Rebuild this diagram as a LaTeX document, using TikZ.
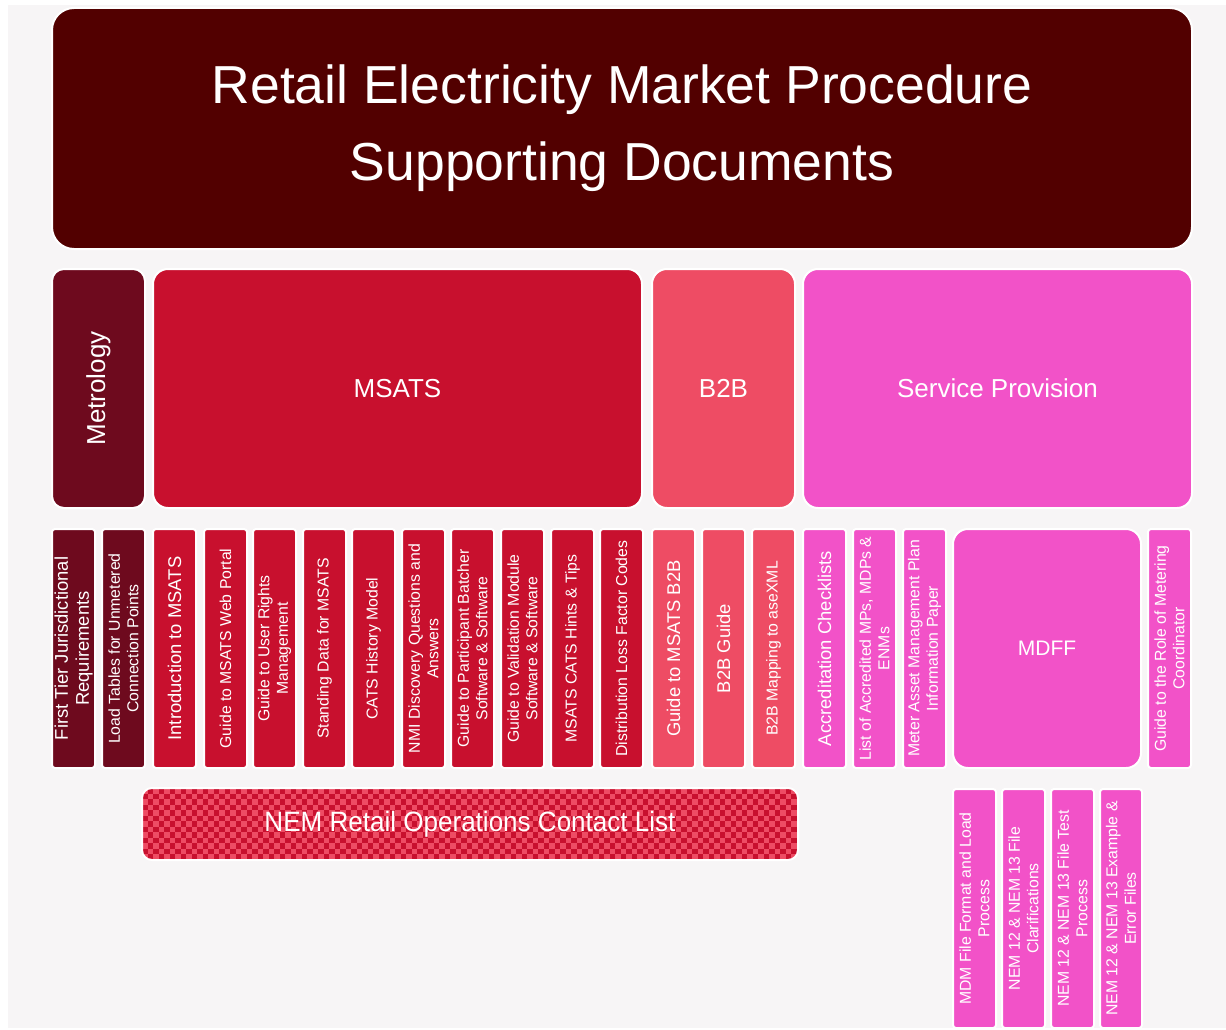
\documentclass[tikz,border=0pt]{standalone}
\usepackage{fontspec}
\setmainfont{Liberation Sans}
\definecolor{bgc}{HTML}{F7F5F6}
\definecolor{titlec}{HTML}{520000}
\definecolor{metc}{HTML}{6E0A1E}
\definecolor{msc}{HTML}{C8102E}
\definecolor{b2bc}{HTML}{EE4C64}
\definecolor{spc}{HTML}{F252C8}
\begin{document}
\begin{tikzpicture}[x=1pt,y=-1pt,
  bigbox/.style={draw=white, line width=2pt, rounded corners=15pt, inner sep=0pt, text=white, align=center, font=\fontsize{26}{30}\selectfont},
  docnode/.style={draw=white, line width=2pt, rounded corners=3pt, rotate=90, minimum width=239pt, minimum height=43pt, inner sep=0pt, align=center, text=white},
  fs/.style={font=\fontsize{15.8}{18.5}\selectfont},
  fl/.style={font=\fontsize{18.4}{21}\selectfont},
  met/.style={docnode, fill=metc},
  ms/.style={docnode, fill=msc},
  bb/.style={docnode, fill=b2bc},
  sp/.style={docnode, fill=spc}]
\useasboundingbox (0,0) rectangle (1226,1030);
\fill[bgc] (8,5) rectangle (1226,1028);

% title
\node[bigbox, fill=titlec, rounded corners=22pt, minimum width=1140pt, minimum height=241pt, font=\fontsize{53.5}{77}\selectfont] (title) at (622,128.5) {Retail Electricity Market Procedure\\Supporting Documents};

% row 2
\node[bigbox, fill=metc, rotate=90, minimum width=239pt, minimum height=93pt, rounded corners=12pt] (metrology) at (98.5,388.5) {Metrology};
\node[bigbox, fill=msc, minimum width=489pt, minimum height=239pt] (msats) at (397.5,388.5) {MSATS};
\node[bigbox, fill=b2bc, minimum width=143pt, minimum height=239pt] (b2b) at (723.5,388.5) {B2B};
\node[bigbox, fill=spc, minimum width=389pt, minimum height=239pt] (service) at (997.5,388.5) {Service Provision};

% row 3
\node[met, fl] (d1) at (73.5,648.5) {First Tier Jurisdictional\\Requirements};
\node[met, fs] (d2) at (123.5,648.5) {Load Tables for Unmetered\\Connection Points};
\node[ms, fl] (d3) at (174.5,648.5) {Introduction to MSATS};
\node[ms, fs] (d4) at (225.5,648.5) {Guide to MSATS Web Portal};
\node[ms, fs] (d5) at (274.5,648.5) {Guide to User Rights\\Management};
\node[ms, fs] (d6) at (324.5,648.5) {Standing Data for MSATS};
\node[ms, fs] (d7) at (373.5,648.5) {CATS History Model};
\node[ms, fs] (d8) at (423.5,648.5) {NMI Discovery Questions and\\Answers};
\node[ms, fs] (d9) at (472.5,648.5) {Guide to Participant Batcher\\Software \& Software};
\node[ms, fs] (d10) at (522.5,648.5) {Guide to Validation Module\\Software \& Software};
\node[ms, fs] (d11) at (572.5,648.5) {MSATS CATS Hints \& Tips};
\node[ms, fs] (d12) at (621.5,648.5) {Distribution Loss Factor Codes};
\node[bb, fl] (d13) at (673.5,648.5) {Guide to MSATS B2B};
\node[bb, fl] (d14) at (723.5,648.5) {B2B Guide};
\node[bb, fs] (d15) at (773.5,648.5) {B2B Mapping to aseXML};
\node[sp, fl] (d16) at (824.5,648.5) {Accreditation Checklists};
\node[sp, fs] (d17) at (874.5,648.5) {List of Accredited MPs, MDPs \&\\ENMs};
\node[sp, fs] (d18) at (924.5,648.5) {Meter Asset Management Plan\\Information Paper};
\node[bigbox, fill=spc, minimum width=188pt, minimum height=239pt, font=\fontsize{21}{24}\selectfont] (mdff) at (1047,648.5) {MDFF};
\node[sp, fs] (d19) at (1169.5,648.5) {Guide to the Role of Metering\\Coordinator};

% MDFF children
\node[sp, fs] (m1) at (974.5,908.5) {MDM File Format and Load\\Process};
\node[sp, fs] (m2) at (1023.5,908.5) {NEM 12 \& NEM 13 File\\Clarifications};
\node[sp, fs] (m3) at (1072.5,908.5) {NEM 12 \& NEM 13 File Test\\Process};
\node[sp, fs, minimum height=42pt] (m4) at (1121,908.5) {NEM 12 \& NEM 13 Example \&\\Error Files};

% contact list (checkered)
\begin{scope}
  \clip[rounded corners=10pt] (142,788) rectangle (798,860);
  \fill[msc] (142,788) rectangle (798,860);
  \foreach \i in {0,...,119}{
    \foreach \j in {0,...,13}{
      \pgfmathtruncatemacro\cpar{mod(\i+\j,2)}
      \ifnum\cpar=0
        \fill[b2bc] (142+\i*5.5,788+\j*5.5) rectangle ++(5.5,5.5);
      \fi
    }
  }
\end{scope}
\node[draw=white, line width=2pt, rounded corners=10pt, minimum width=656pt, minimum height=72pt, inner sep=0pt, text=white, font=\fontsize{28}{30}\selectfont] (contact) at (470,824) {\raisebox{2pt}{\scalebox{0.93}[1]{NEM Retail Operations Contact List}}};
\end{tikzpicture}
\end{document}
